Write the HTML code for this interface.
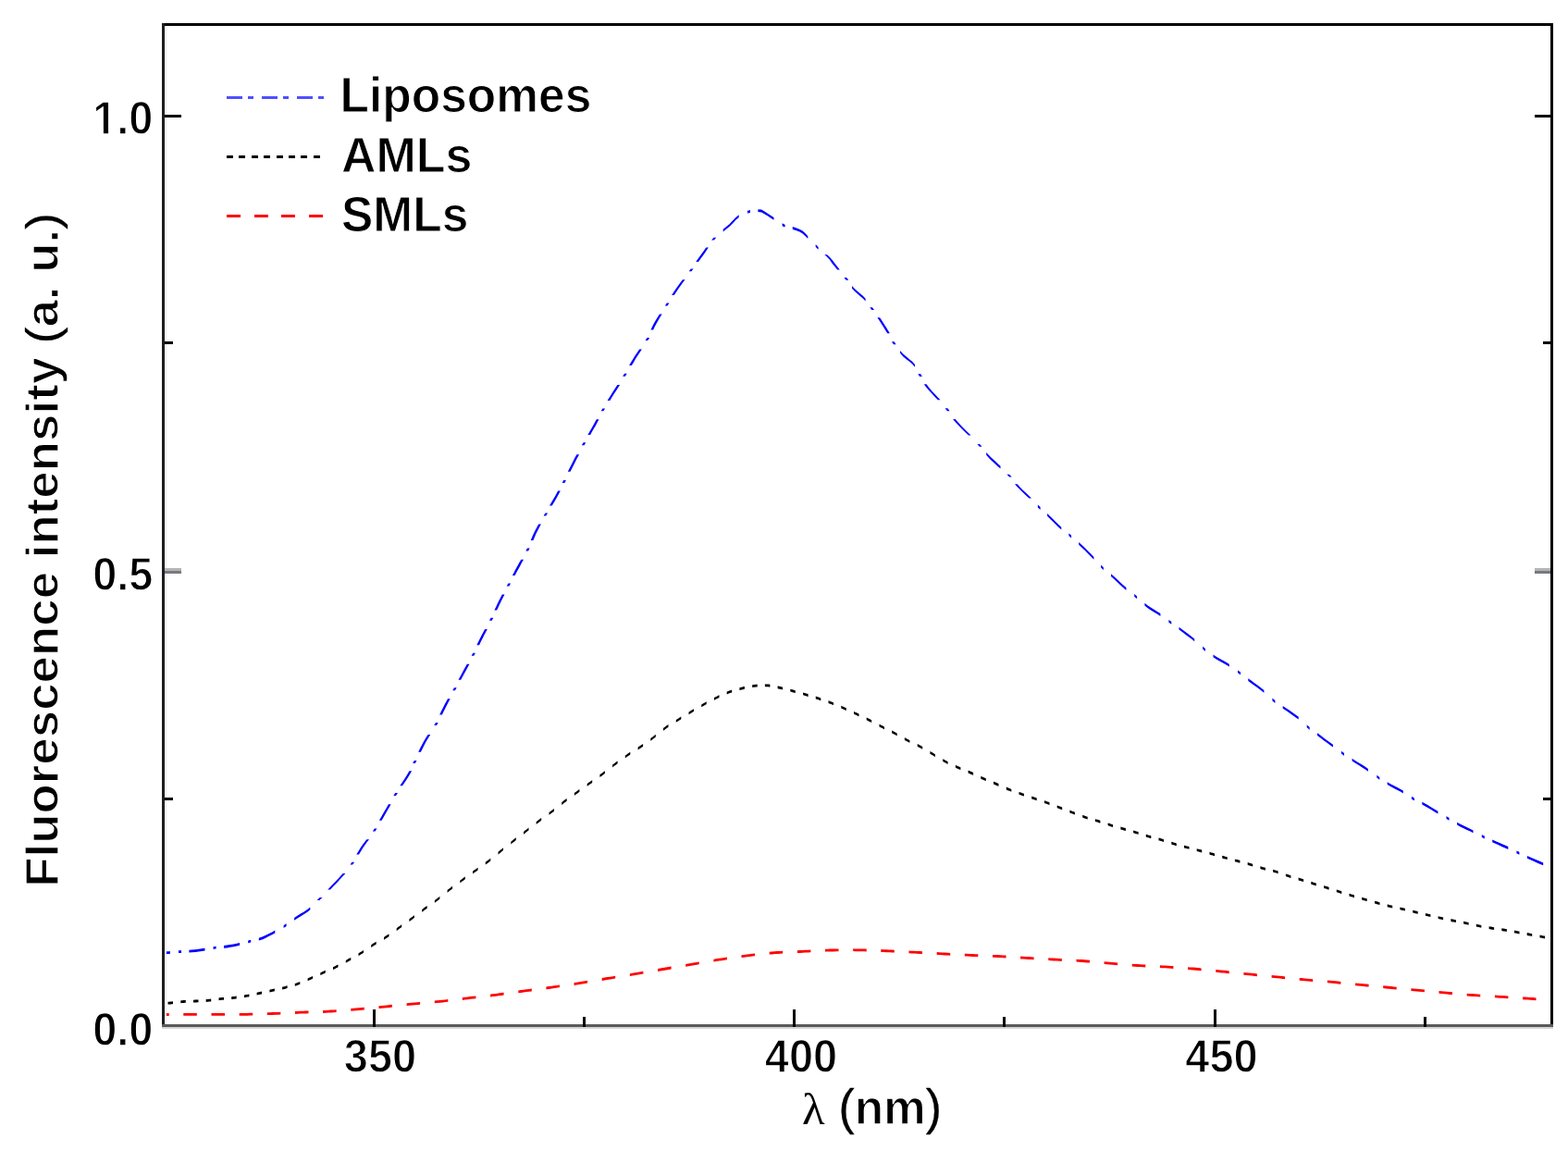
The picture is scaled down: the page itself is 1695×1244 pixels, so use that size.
<!DOCTYPE html>
<html><head><meta charset="utf-8"><title>Fluorescence spectra</title>
<style>html,body{margin:0;padding:0;background:#fff;}body{width:1695px;height:1244px;overflow:hidden;}svg{display:block;}text{font-family:'Liberation Sans', Arial, Helvetica, sans-serif;font-weight:bold;fill:#000;}</style></head><body>
<svg width="1695" height="1244" viewBox="0 0 1695 1244">
<defs><clipPath id="pa"><rect x="178" y="28" width="1498" height="1079"/></clipPath></defs>
<g clip-path="url(#pa)" stroke="none">
<path fill="#ff0000" d="M177.0,1095.1 L177.8,1095.1 L178.8,1095.1 L180.1,1095.1 L181.3,1095.1 L182.7,1095.1 L182.7,1097.9 L181.5,1097.9 L180.3,1097.9 L179.0,1097.9 L178.0,1097.9 L177.0,1097.9ZM198.3,1095.0 L201.5,1095.0 L204.5,1095.0 L207.2,1095.0 L210.0,1095.0 L212.8,1095.0 L212.8,1097.8 L210.2,1097.8 L207.5,1097.8 L204.7,1097.8 L201.8,1097.8 L198.3,1097.8ZM228.5,1095.0 L231.2,1095.0 L234.2,1095.0 L237.2,1095.0 L240.2,1095.0 L243.0,1095.0 L243.0,1097.8 L240.4,1097.8 L237.4,1097.8 L234.4,1097.8 L231.4,1097.8 L228.5,1097.8ZM258.7,1095.0 L261.2,1094.9 L264.2,1094.9 L267.2,1094.9 L270.2,1094.8 L273.2,1094.7 L273.2,1097.5 L270.5,1097.6 L267.5,1097.7 L264.5,1097.7 L261.5,1097.7 L258.7,1097.8ZM288.8,1094.3 L291.5,1094.2 L294.5,1094.1 L297.5,1094.0 L300.6,1093.9 L303.3,1093.8 L303.3,1096.6 L300.8,1096.7 L297.8,1096.8 L294.8,1096.9 L291.8,1097.0 L288.8,1097.1ZM319.0,1093.1 L321.6,1093.0 L324.6,1092.8 L327.6,1092.7 L330.6,1092.6 L333.5,1092.5 L333.5,1095.3 L330.8,1095.4 L327.8,1095.5 L324.8,1095.6 L321.8,1095.7 L319.0,1095.9ZM349.1,1092.1 L351.9,1092.0 L355.0,1091.8 L357.7,1091.6 L360.7,1091.4 L363.6,1091.2 L363.6,1094.0 L360.9,1094.2 L358.0,1094.4 L355.2,1094.6 L352.2,1094.7 L349.1,1094.9ZM379.3,1090.0 L382.0,1089.8 L384.9,1089.5 L387.9,1089.3 L391.0,1089.0 L393.8,1088.7 L393.8,1091.5 L391.2,1091.8 L388.2,1092.0 L385.2,1092.3 L382.2,1092.6 L379.3,1092.8ZM409.5,1087.2 L412.1,1087.0 L415.1,1086.7 L418.1,1086.4 L421.1,1086.1 L424.0,1085.8 L424.0,1088.6 L421.3,1088.9 L418.3,1089.2 L415.3,1089.5 L412.4,1089.8 L409.5,1090.0ZM439.6,1084.3 L442.2,1084.1 L445.2,1083.8 L448.2,1083.5 L451.2,1083.2 L454.1,1083.0 L454.1,1085.8 L451.5,1086.0 L448.5,1086.3 L445.5,1086.5 L442.4,1086.8 L439.6,1087.1ZM469.8,1081.5 L472.4,1081.3 L475.4,1081.0 L478.3,1080.7 L481.4,1080.4 L484.3,1080.0 L484.3,1082.8 L481.6,1083.1 L478.6,1083.5 L475.6,1083.8 L472.6,1084.1 L469.8,1084.3ZM499.9,1078.1 L502.6,1077.8 L505.6,1077.4 L508.6,1077.0 L511.5,1076.7 L514.4,1076.4 L514.4,1079.2 L511.8,1079.5 L508.8,1079.8 L505.9,1080.2 L502.9,1080.5 L499.9,1080.9ZM530.1,1074.6 L532.7,1074.3 L535.7,1073.9 L538.7,1073.5 L541.7,1073.1 L544.6,1072.8 L544.6,1075.6 L541.9,1075.9 L538.9,1076.3 L536.0,1076.7 L533.0,1077.1 L530.1,1077.4ZM560.3,1070.5 L563.1,1070.1 L566.0,1069.7 L569.0,1069.3 L572.0,1068.9 L574.8,1068.6 L574.8,1071.4 L572.0,1071.7 L569.0,1072.1 L566.0,1072.5 L563.1,1072.9 L560.3,1073.3ZM590.4,1066.5 L593.1,1066.1 L596.2,1065.7 L599.1,1065.3 L602.1,1064.9 L604.9,1064.4 L604.9,1067.2 L602.3,1067.6 L599.4,1068.1 L596.4,1068.5 L593.4,1068.9 L590.4,1069.3ZM620.6,1062.1 L623.1,1061.7 L626.1,1061.2 L629.1,1060.8 L632.1,1060.3 L635.1,1059.8 L635.1,1062.6 L632.4,1063.0 L629.4,1063.5 L626.4,1064.0 L623.4,1064.5 L620.6,1064.9ZM650.7,1057.1 L653.6,1056.6 L656.5,1056.1 L659.5,1055.7 L662.5,1055.2 L665.2,1054.7 L665.2,1057.5 L662.5,1058.0 L659.5,1058.5 L656.5,1058.9 L653.6,1059.4 L650.7,1059.9ZM680.9,1052.2 L683.6,1051.8 L686.6,1051.3 L689.5,1050.8 L692.5,1050.3 L695.4,1049.8 L695.4,1052.6 L692.8,1053.0 L689.8,1053.6 L686.8,1054.0 L683.8,1054.5 L680.9,1055.0ZM711.1,1047.1 L713.7,1046.6 L716.6,1046.1 L719.6,1045.6 L722.6,1045.1 L725.6,1044.6 L725.6,1047.4 L722.9,1047.9 L719.9,1048.4 L716.9,1048.9 L713.9,1049.4 L711.1,1049.9ZM741.2,1041.9 L743.9,1041.5 L746.9,1041.0 L749.9,1040.5 L752.8,1040.0 L755.7,1039.4 L755.7,1042.2 L753.1,1042.7 L750.1,1043.2 L747.2,1043.7 L744.2,1044.2 L741.2,1044.7ZM771.4,1036.8 L774.1,1036.3 L777.1,1035.8 L780.1,1035.4 L783.0,1034.9 L785.9,1034.5 L785.9,1037.3 L783.2,1037.7 L780.3,1038.2 L777.4,1038.6 L774.3,1039.1 L771.4,1039.6ZM801.5,1032.3 L804.3,1031.9 L807.2,1031.5 L810.1,1031.2 L813.2,1030.8 L816.0,1030.5 L816.0,1033.3 L813.2,1033.6 L810.1,1034.0 L807.2,1034.3 L804.3,1034.7 L801.5,1035.1ZM831.7,1028.8 L834.3,1028.6 L837.4,1028.3 L840.3,1028.1 L843.3,1028.0 L846.2,1027.8 L846.2,1030.6 L843.5,1030.7 L840.6,1030.9 L837.6,1031.1 L834.6,1031.4 L831.7,1031.6ZM861.9,1027.2 L864.4,1027.1 L867.4,1027.0 L870.4,1026.8 L873.5,1026.7 L876.4,1026.5 L876.4,1029.3 L873.7,1029.5 L870.7,1029.6 L867.7,1029.8 L864.7,1029.9 L861.9,1030.0ZM892.0,1025.8 L894.6,1025.7 L897.6,1025.6 L900.6,1025.6 L903.6,1025.5 L906.5,1025.4 L906.5,1028.2 L903.9,1028.3 L900.9,1028.4 L897.9,1028.4 L894.9,1028.5 L892.0,1028.6ZM922.2,1025.3 L924.8,1025.4 L927.8,1025.4 L930.8,1025.4 L933.8,1025.5 L936.7,1025.6 L936.7,1028.4 L934.1,1028.3 L931.1,1028.2 L928.1,1028.2 L925.1,1028.2 L922.2,1028.1ZM952.3,1026.1 L954.9,1026.2 L958.0,1026.3 L961.0,1026.5 L964.0,1026.6 L966.8,1026.7 L966.8,1029.5 L964.3,1029.4 L961.2,1029.3 L958.2,1029.2 L955.2,1029.0 L952.3,1028.9ZM982.5,1027.5 L985.1,1027.7 L988.1,1027.8 L991.2,1028.0 L994.2,1028.1 L997.0,1028.3 L997.0,1031.1 L994.4,1031.0 L991.4,1030.8 L988.4,1030.6 L985.4,1030.5 L982.5,1030.3ZM1012.7,1029.1 L1015.3,1029.3 L1018.3,1029.4 L1021.4,1029.6 L1024.4,1029.7 L1027.2,1029.9 L1027.2,1032.7 L1024.6,1032.6 L1021.6,1032.4 L1018.6,1032.2 L1015.6,1032.1 L1012.7,1031.9ZM1042.8,1030.7 L1045.4,1030.8 L1048.4,1030.9 L1051.4,1031.1 L1054.4,1031.2 L1057.3,1031.3 L1057.3,1034.1 L1054.7,1034.0 L1051.7,1033.9 L1048.6,1033.7 L1045.6,1033.6 L1042.8,1033.5ZM1073.0,1031.9 L1075.6,1032.0 L1078.6,1032.1 L1081.6,1032.3 L1084.6,1032.4 L1087.5,1032.6 L1087.5,1035.4 L1084.9,1035.3 L1081.9,1035.1 L1078.8,1034.9 L1075.8,1034.8 L1073.0,1034.7ZM1103.1,1033.6 L1105.9,1033.7 L1108.9,1033.9 L1111.7,1034.1 L1114.7,1034.2 L1117.6,1034.4 L1117.6,1037.2 L1114.9,1037.1 L1111.9,1036.9 L1109.1,1036.7 L1106.1,1036.5 L1103.1,1036.4ZM1133.3,1035.3 L1135.9,1035.4 L1138.9,1035.6 L1141.9,1035.8 L1144.9,1035.9 L1147.8,1036.1 L1147.8,1038.9 L1145.1,1038.7 L1142.1,1038.6 L1139.1,1038.4 L1136.1,1038.3 L1133.3,1038.1ZM1163.5,1036.8 L1166.1,1036.9 L1169.1,1037.1 L1172.1,1037.3 L1175.0,1037.6 L1178.0,1037.8 L1178.0,1040.6 L1175.3,1040.4 L1172.3,1040.2 L1169.3,1039.9 L1166.3,1039.8 L1163.5,1039.6ZM1193.6,1039.2 L1196.3,1039.4 L1199.3,1039.7 L1202.3,1039.9 L1205.3,1040.2 L1208.1,1040.4 L1208.1,1043.2 L1205.6,1043.0 L1202.6,1042.8 L1199.6,1042.5 L1196.6,1042.3 L1193.6,1042.0ZM1223.8,1041.7 L1226.4,1041.9 L1229.4,1042.1 L1232.4,1042.2 L1235.5,1042.4 L1238.3,1042.6 L1238.3,1045.4 L1235.7,1045.2 L1232.6,1045.1 L1229.6,1044.9 L1226.7,1044.7 L1223.8,1044.5ZM1253.9,1043.2 L1256.5,1043.4 L1259.5,1043.5 L1262.5,1043.7 L1265.5,1043.9 L1268.4,1044.1 L1268.4,1046.9 L1265.8,1046.7 L1262.8,1046.5 L1259.8,1046.3 L1256.7,1046.2 L1253.9,1046.0ZM1284.1,1045.2 L1286.8,1045.4 L1289.9,1045.6 L1292.6,1045.8 L1295.6,1046.1 L1298.6,1046.4 L1298.6,1049.2 L1295.9,1048.9 L1292.9,1048.7 L1290.1,1048.4 L1287.1,1048.2 L1284.1,1048.0ZM1314.3,1048.0 L1316.9,1048.2 L1319.9,1048.5 L1322.9,1048.8 L1325.9,1049.1 L1328.8,1049.4 L1328.8,1052.2 L1326.2,1051.9 L1323.1,1051.6 L1320.1,1051.4 L1317.2,1051.1 L1314.3,1050.8ZM1344.4,1050.9 L1347.1,1051.2 L1350.1,1051.5 L1353.1,1051.8 L1356.1,1052.1 L1358.9,1052.4 L1358.9,1055.2 L1356.3,1054.9 L1353.3,1054.6 L1350.3,1054.3 L1347.3,1054.0 L1344.4,1053.7ZM1374.6,1053.9 L1377.3,1054.2 L1380.3,1054.5 L1383.3,1054.8 L1386.3,1055.1 L1389.1,1055.4 L1389.1,1058.2 L1386.6,1057.9 L1383.6,1057.6 L1380.5,1057.3 L1377.5,1057.0 L1374.6,1056.7ZM1404.7,1056.9 L1407.4,1057.1 L1410.4,1057.4 L1413.4,1057.7 L1416.4,1057.9 L1419.2,1058.2 L1419.2,1061.0 L1416.6,1060.7 L1413.6,1060.5 L1410.6,1060.2 L1407.6,1059.9 L1404.7,1059.7ZM1434.9,1059.5 L1437.5,1059.7 L1440.5,1060.0 L1443.5,1060.3 L1446.5,1060.6 L1449.4,1060.9 L1449.4,1063.7 L1446.7,1063.4 L1443.7,1063.1 L1440.7,1062.8 L1437.7,1062.6 L1434.9,1062.3ZM1465.1,1062.4 L1467.8,1062.7 L1470.8,1063.0 L1473.8,1063.3 L1476.8,1063.6 L1479.6,1063.8 L1479.6,1066.6 L1477.0,1066.4 L1474.0,1066.1 L1471.0,1065.8 L1468.0,1065.5 L1465.1,1065.2ZM1495.2,1065.3 L1497.8,1065.6 L1500.8,1065.8 L1503.8,1066.1 L1506.8,1066.4 L1509.7,1066.7 L1509.7,1069.5 L1507.0,1069.2 L1504.0,1068.9 L1501.0,1068.7 L1498.0,1068.4 L1495.2,1068.1ZM1525.4,1068.2 L1528.1,1068.4 L1531.1,1068.7 L1533.9,1069.0 L1536.9,1069.3 L1539.9,1069.5 L1539.9,1072.3 L1537.1,1072.1 L1534.1,1071.8 L1531.4,1071.5 L1528.4,1071.3 L1525.4,1071.0ZM1555.5,1071.0 L1558.2,1071.2 L1561.2,1071.5 L1564.2,1071.8 L1567.2,1072.0 L1570.0,1072.3 L1570.0,1075.1 L1567.4,1074.9 L1564.4,1074.6 L1561.4,1074.3 L1558.4,1074.1 L1555.5,1073.8ZM1585.7,1073.7 L1588.3,1073.9 L1591.3,1074.1 L1594.3,1074.3 L1597.3,1074.5 L1600.2,1074.7 L1600.2,1077.5 L1597.5,1077.3 L1594.5,1077.1 L1591.6,1076.9 L1588.6,1076.7 L1585.7,1076.5ZM1615.9,1075.5 L1618.5,1075.7 L1621.5,1075.9 L1624.3,1076.0 L1627.3,1076.2 L1630.4,1076.4 L1630.4,1079.2 L1627.6,1079.0 L1624.5,1078.8 L1621.8,1078.7 L1618.7,1078.5 L1615.9,1078.3ZM1646.0,1077.4 L1648.6,1077.6 L1651.1,1077.7 L1653.7,1077.9 L1656.9,1078.1 L1660.5,1078.4 L1660.5,1081.2 L1657.2,1081.0 L1654.0,1080.7 L1651.4,1080.6 L1648.8,1080.4 L1646.0,1080.2ZM1676.2,1079.5 L1676.3,1079.6 L1676.5,1079.6 L1676.6,1079.6 L1676.7,1079.6 L1677.0,1079.6 L1677.0,1082.4 L1676.9,1082.4 L1676.7,1082.4 L1676.6,1082.4 L1676.5,1082.4 L1676.2,1082.3Z"/>
<path fill="#000000" d="M181.5,1082.8 L182.9,1082.7 L184.2,1082.6 L185.2,1082.5 L186.1,1082.4 L187.0,1082.3 L187.0,1085.1 L186.3,1085.2 L185.4,1085.3 L184.4,1085.4 L183.2,1085.5 L181.5,1085.6ZM195.3,1081.4 L196.1,1081.3 L197.4,1081.2 L198.4,1081.1 L199.7,1081.0 L200.8,1081.0 L200.8,1083.8 L200.0,1083.8 L198.7,1083.9 L197.7,1084.0 L196.4,1084.1 L195.3,1084.2ZM209.0,1080.7 L209.8,1080.7 L211.1,1080.6 L212.1,1080.6 L213.3,1080.5 L214.5,1080.5 L214.5,1083.3 L213.6,1083.3 L212.3,1083.4 L211.3,1083.4 L210.0,1083.5 L209.0,1083.5ZM222.7,1080.1 L223.7,1080.0 L224.7,1079.9 L226.0,1079.8 L227.0,1079.7 L228.2,1079.6 L228.2,1082.4 L227.2,1082.5 L226.2,1082.6 L225.0,1082.7 L224.0,1082.8 L222.7,1082.9ZM236.5,1078.5 L237.4,1078.3 L238.6,1078.2 L239.6,1078.1 L240.9,1078.0 L242.0,1077.9 L242.0,1080.7 L241.1,1080.7 L239.9,1080.8 L238.9,1081.0 L237.6,1081.1 L236.5,1081.3ZM250.2,1077.2 L251.1,1077.1 L252.4,1077.0 L253.4,1076.9 L254.6,1076.8 L255.7,1076.6 L255.7,1079.4 L254.9,1079.5 L253.6,1079.7 L252.6,1079.8 L251.4,1079.9 L250.2,1080.0ZM263.9,1075.4 L264.8,1075.3 L266.1,1075.1 L267.0,1074.9 L268.3,1074.7 L269.4,1074.5 L269.4,1077.3 L268.5,1077.4 L267.3,1077.6 L266.3,1077.8 L265.1,1078.0 L263.9,1078.2ZM277.6,1072.8 L278.4,1072.6 L279.7,1072.3 L280.9,1072.0 L282.1,1071.8 L283.1,1071.6 L283.1,1074.4 L282.4,1074.5 L281.2,1074.8 L279.9,1075.1 L278.7,1075.3 L277.6,1075.6ZM291.4,1069.7 L292.2,1069.6 L293.5,1069.3 L294.5,1069.1 L295.7,1068.8 L296.9,1068.5 L296.9,1071.3 L295.9,1071.5 L294.7,1071.8 L293.7,1072.0 L292.5,1072.3 L291.4,1072.5ZM305.1,1066.7 L305.9,1066.5 L307.2,1066.2 L308.3,1065.9 L309.6,1065.6 L310.6,1065.3 L310.6,1068.1 L309.8,1068.3 L308.6,1068.7 L307.4,1069.0 L306.2,1069.2 L305.1,1069.5ZM318.8,1063.0 L319.8,1062.7 L321.1,1062.2 L322.2,1061.8 L323.3,1061.4 L324.3,1060.9 L324.3,1063.7 L323.3,1064.2 L322.2,1064.6 L321.1,1065.0 L319.8,1065.5 L318.8,1065.8ZM332.6,1057.4 L333.5,1056.9 L334.7,1056.4 L335.9,1055.9 L337.0,1055.4 L338.1,1054.9 L338.1,1057.7 L337.0,1058.2 L335.9,1058.7 L334.7,1059.2 L333.5,1059.7 L332.6,1060.2ZM346.3,1051.3 L347.2,1050.9 L348.4,1050.3 L349.6,1049.8 L350.7,1049.3 L351.8,1048.8 L351.8,1051.6 L350.9,1052.0 L349.8,1052.5 L348.6,1053.0 L347.5,1053.6 L346.3,1054.1ZM360.0,1045.2 L361.1,1044.7 L362.2,1044.2 L363.3,1043.6 L364.4,1043.1 L365.5,1042.5 L365.5,1045.3 L364.6,1045.8 L363.5,1046.3 L362.4,1046.9 L361.3,1047.4 L360.0,1048.0ZM373.8,1037.9 L374.7,1037.4 L375.8,1036.8 L377.0,1036.1 L378.0,1035.5 L379.3,1034.9 L379.3,1037.7 L378.3,1038.2 L377.2,1038.8 L376.1,1039.4 L374.9,1040.1 L373.8,1040.7ZM387.5,1030.3 L388.5,1029.7 L389.6,1029.1 L390.7,1028.4 L391.8,1027.8 L393.0,1027.0 L393.0,1029.8 L392.0,1030.4 L390.9,1031.1 L389.8,1031.8 L388.7,1032.4 L387.5,1033.1ZM401.2,1021.2 L402.3,1020.5 L403.3,1019.8 L404.4,1019.1 L405.5,1018.5 L406.7,1017.7 L406.7,1020.5 L405.7,1021.2 L404.6,1021.8 L403.6,1022.5 L402.5,1023.2 L401.2,1024.0ZM415.0,1012.9 L416.0,1012.3 L417.0,1011.6 L418.3,1010.8 L419.4,1010.1 L420.5,1009.4 L420.5,1012.2 L419.6,1012.8 L418.5,1013.5 L417.3,1014.3 L416.2,1015.0 L415.0,1015.7ZM428.7,1003.2 L429.7,1002.5 L430.9,1001.6 L431.9,1000.9 L433.1,1000.0 L434.2,999.2 L434.2,1002.0 L433.3,1002.7 L432.1,1003.5 L431.1,1004.3 L429.9,1005.2 L428.7,1006.0ZM442.4,993.3 L443.4,992.5 L444.7,991.6 L445.7,990.9 L446.8,990.0 L447.9,989.2 L447.9,992.0 L447.0,992.6 L445.9,993.5 L444.9,994.3 L443.6,995.2 L442.4,996.1ZM456.2,982.9 L457.1,982.2 L458.3,981.3 L459.2,980.6 L460.5,979.7 L461.7,978.9 L461.7,981.7 L460.7,982.4 L459.4,983.3 L458.5,984.0 L457.3,984.9 L456.2,985.7ZM469.9,973.0 L470.7,972.4 L472.0,971.5 L473.2,970.6 L474.3,969.7 L475.4,968.8 L475.4,971.6 L474.5,972.3 L473.3,973.2 L472.2,974.1 L470.9,975.1 L469.9,975.8ZM483.6,962.0 L484.4,961.3 L485.6,960.4 L486.8,959.4 L488.0,958.5 L489.1,957.7 L489.1,960.5 L488.2,961.2 L487.0,962.1 L485.8,963.0 L484.6,964.0 L483.6,964.8ZM497.3,951.5 L498.2,950.9 L499.4,950.0 L500.4,949.2 L501.6,948.3 L502.8,947.5 L502.8,950.3 L501.8,951.0 L500.6,951.9 L499.6,952.6 L498.4,953.5 L497.3,954.3ZM511.1,941.6 L512.0,941.0 L513.2,940.1 L514.2,939.4 L515.4,938.5 L516.6,937.7 L516.6,940.5 L515.6,941.2 L514.4,942.0 L513.4,942.8 L512.2,943.6 L511.1,944.4ZM524.8,931.8 L525.7,931.1 L526.9,930.2 L528.1,929.3 L529.3,928.4 L530.3,927.6 L530.3,930.4 L529.5,931.0 L528.3,931.9 L527.1,932.9 L525.9,933.8 L524.8,934.6ZM538.5,920.8 L539.4,920.0 L540.6,919.1 L541.8,918.1 L542.9,917.2 L544.0,916.3 L544.0,919.1 L543.1,919.8 L542.0,920.7 L540.8,921.7 L539.6,922.7 L538.5,923.6ZM552.3,909.7 L553.2,908.9 L554.4,908.0 L555.6,907.0 L556.8,906.1 L557.8,905.3 L557.8,908.1 L557.0,908.8 L555.8,909.7 L554.6,910.6 L553.4,911.6 L552.3,912.5ZM566.0,898.9 L566.8,898.2 L568.0,897.3 L569.2,896.4 L570.4,895.4 L571.5,894.6 L571.5,897.4 L570.6,898.1 L569.4,899.0 L568.2,899.9 L567.0,900.9 L566.0,901.7ZM579.7,888.1 L580.6,887.4 L581.8,886.5 L582.8,885.8 L584.0,884.8 L585.2,883.9 L585.2,886.7 L584.2,887.5 L583.0,888.4 L582.0,889.2 L580.8,890.1 L579.7,890.9ZM593.5,878.0 L594.3,877.4 L595.5,876.5 L596.7,875.7 L597.9,874.7 L599.0,873.9 L599.0,876.7 L598.1,877.4 L596.9,878.3 L595.7,879.2 L594.5,880.1 L593.5,880.8ZM607.2,867.2 L608.0,866.5 L609.2,865.6 L610.4,864.6 L611.6,863.7 L612.7,862.9 L612.7,865.7 L611.8,866.4 L610.6,867.3 L609.4,868.2 L608.2,869.2 L607.2,870.0ZM620.9,857.0 L621.9,856.3 L623.1,855.4 L624.1,854.7 L625.3,853.8 L626.4,853.0 L626.4,855.8 L625.5,856.5 L624.3,857.4 L623.3,858.1 L622.1,859.0 L620.9,859.8ZM634.7,847.1 L635.5,846.5 L636.7,845.6 L637.7,844.9 L638.9,844.0 L640.2,843.2 L640.2,846.0 L639.1,846.7 L637.9,847.6 L636.9,848.3 L635.7,849.1 L634.7,849.9ZM648.4,837.3 L649.3,836.6 L650.6,835.7 L651.6,835.0 L652.7,834.1 L653.9,833.2 L653.9,836.0 L652.9,836.7 L651.8,837.6 L650.8,838.4 L649.5,839.3 L648.4,840.1ZM662.1,826.6 L663.0,825.9 L664.2,825.0 L665.2,824.2 L666.4,823.3 L667.6,822.4 L667.6,825.2 L666.6,826.0 L665.4,826.9 L664.4,827.6 L663.2,828.5 L662.1,829.4ZM675.8,816.5 L676.8,815.9 L677.8,815.2 L679.0,814.3 L680.1,813.6 L681.3,812.8 L681.3,815.6 L680.3,816.3 L679.2,817.0 L678.0,817.8 L677.0,818.5 L675.8,819.3ZM689.6,807.6 L690.4,807.1 L691.7,806.3 L692.7,805.6 L694.0,804.7 L695.1,804.0 L695.1,806.8 L694.2,807.4 L692.9,808.3 L691.9,808.9 L690.6,809.8 L689.6,810.4ZM703.3,798.0 L704.2,797.3 L705.5,796.4 L706.6,795.5 L707.8,794.5 L708.8,793.7 L708.8,796.5 L708.0,797.2 L706.8,798.1 L705.7,799.0 L704.4,800.0 L703.3,800.8ZM717.0,786.9 L717.9,786.3 L719.1,785.4 L720.1,784.6 L721.4,783.8 L722.5,783.0 L722.5,785.8 L721.6,786.4 L720.4,787.3 L719.3,788.0 L718.1,788.9 L717.0,789.7ZM730.8,777.9 L731.7,777.4 L732.8,776.7 L734.0,775.9 L735.1,775.2 L736.3,774.5 L736.3,777.3 L735.3,777.9 L734.3,778.6 L733.0,779.4 L731.9,780.0 L730.8,780.7ZM744.5,769.4 L745.5,768.9 L746.5,768.2 L747.6,767.6 L748.7,766.9 L750.0,766.2 L750.0,769.0 L748.9,769.6 L747.8,770.2 L746.8,770.9 L745.7,771.5 L744.5,772.2ZM758.2,761.4 L759.2,760.9 L760.2,760.3 L761.3,759.7 L762.5,759.0 L763.7,758.3 L763.7,761.1 L762.7,761.7 L761.6,762.3 L760.5,763.0 L759.4,763.6 L758.2,764.2ZM772.0,754.0 L772.9,753.5 L774.1,752.9 L775.2,752.4 L776.3,751.8 L777.5,751.3 L777.5,754.1 L776.5,754.5 L775.4,755.1 L774.3,755.6 L773.1,756.2 L772.0,756.8ZM785.7,747.6 L786.7,747.2 L787.8,746.8 L789.0,746.3 L790.2,745.9 L791.2,745.6 L791.2,748.4 L790.2,748.7 L789.0,749.1 L787.8,749.6 L786.7,750.0 L785.7,750.4ZM799.4,743.2 L800.4,743.0 L801.6,742.7 L802.5,742.4 L803.8,742.1 L804.9,741.9 L804.9,744.7 L804.0,744.9 L802.8,745.2 L801.8,745.4 L800.6,745.7 L799.4,746.0ZM813.2,740.2 L814.1,740.1 L815.3,739.9 L816.3,739.8 L817.6,739.7 L818.7,739.6 L818.7,742.4 L817.8,742.4 L816.6,742.6 L815.6,742.7 L814.4,742.8 L813.2,743.0ZM826.9,739.3 L827.7,739.4 L828.9,739.4 L829.9,739.5 L831.2,739.6 L832.4,739.8 L832.4,742.6 L831.4,742.5 L830.2,742.3 L829.2,742.3 L827.9,742.2 L826.9,742.1ZM840.6,741.4 L841.4,741.6 L842.6,741.8 L843.9,742.1 L845.1,742.4 L846.1,742.6 L846.1,745.4 L845.4,745.2 L844.1,745.0 L842.9,744.7 L841.6,744.4 L840.6,744.2ZM854.3,744.7 L855.2,745.0 L856.5,745.3 L857.4,745.6 L858.7,745.9 L859.8,746.2 L859.8,749.0 L858.9,748.8 L857.7,748.4 L856.7,748.2 L855.5,747.8 L854.3,747.5ZM868.1,748.5 L868.8,748.7 L870.1,749.1 L871.3,749.4 L872.5,749.8 L873.6,750.1 L873.6,752.9 L872.7,752.7 L871.5,752.3 L870.3,752.0 L869.1,751.6 L868.1,751.3ZM881.8,752.6 L882.6,752.8 L883.8,753.2 L885.0,753.6 L886.2,754.0 L887.3,754.4 L887.3,757.2 L886.5,756.9 L885.2,756.5 L884.1,756.1 L882.9,755.7 L881.8,755.4ZM895.5,757.2 L896.5,757.6 L897.7,758.0 L898.9,758.5 L900.1,758.9 L901.0,759.3 L901.0,762.1 L900.1,761.7 L898.9,761.3 L897.7,760.8 L896.5,760.4 L895.5,760.0ZM909.3,762.7 L910.3,763.2 L911.5,763.7 L912.6,764.2 L913.7,764.7 L914.8,765.2 L914.8,768.0 L913.7,767.5 L912.6,767.0 L911.5,766.5 L910.3,766.0 L909.3,765.5ZM923.0,768.9 L924.1,769.4 L925.2,770.0 L926.4,770.5 L927.5,771.1 L928.5,771.5 L928.5,774.3 L927.5,773.9 L926.4,773.3 L925.2,772.8 L924.1,772.2 L923.0,771.7ZM936.7,775.5 L937.8,776.0 L938.9,776.6 L940.0,777.1 L941.2,777.7 L942.2,778.2 L942.2,781.0 L941.2,780.5 L940.0,779.9 L938.9,779.4 L937.8,778.8 L936.7,778.3ZM950.5,782.6 L951.5,783.2 L952.6,783.8 L953.8,784.3 L954.9,784.9 L956.0,785.5 L956.0,788.3 L954.9,787.7 L953.8,787.1 L952.6,786.6 L951.5,786.0 L950.5,785.4ZM964.2,789.6 L965.3,790.1 L966.4,790.7 L967.5,791.3 L968.6,791.9 L969.7,792.5 L969.7,795.3 L968.6,794.7 L967.5,794.1 L966.4,793.5 L965.3,792.9 L964.2,792.4ZM977.9,797.1 L979.0,797.7 L980.1,798.3 L981.2,798.9 L982.3,799.5 L983.4,800.0 L983.4,802.8 L982.3,802.3 L981.2,801.7 L980.1,801.1 L979.0,800.5 L977.9,799.9ZM991.7,804.0 L992.7,804.5 L993.8,805.1 L994.9,805.7 L996.0,806.3 L997.2,806.9 L997.2,809.7 L996.2,809.2 L995.1,808.6 L994.0,808.0 L992.9,807.4 L991.7,806.8ZM1005.4,811.9 L1006.4,812.5 L1007.5,813.1 L1008.6,813.8 L1009.7,814.5 L1010.9,815.2 L1010.9,818.0 L1009.9,817.4 L1008.8,816.7 L1007.7,816.1 L1006.6,815.4 L1005.4,814.7ZM1019.1,820.2 L1020.1,820.7 L1021.2,821.3 L1022.3,821.9 L1023.4,822.5 L1024.6,823.1 L1024.6,825.9 L1023.7,825.4 L1022.6,824.8 L1021.4,824.3 L1020.3,823.6 L1019.1,823.0ZM1032.9,826.9 L1033.8,827.3 L1034.9,827.8 L1036.0,828.3 L1037.1,828.8 L1038.4,829.3 L1038.4,832.1 L1037.4,831.7 L1036.2,831.2 L1035.1,830.7 L1034.0,830.2 L1032.9,829.7ZM1046.6,832.7 L1047.6,833.1 L1048.8,833.6 L1050.0,834.1 L1051.1,834.6 L1052.1,835.0 L1052.1,837.8 L1051.1,837.4 L1050.0,836.9 L1048.8,836.4 L1047.6,835.9 L1046.6,835.5ZM1060.3,838.9 L1061.2,839.3 L1062.4,839.8 L1063.5,840.3 L1064.7,840.8 L1065.8,841.3 L1065.8,844.1 L1064.9,843.7 L1063.7,843.2 L1062.6,842.7 L1061.4,842.2 L1060.3,841.7ZM1074.0,844.7 L1075.1,845.1 L1076.2,845.6 L1077.4,846.1 L1078.5,846.6 L1079.5,847.0 L1079.5,849.8 L1078.5,849.4 L1077.4,848.9 L1076.2,848.4 L1075.1,847.9 L1074.0,847.5ZM1087.8,850.6 L1088.8,851.1 L1090.0,851.6 L1091.1,852.0 L1092.3,852.5 L1093.3,852.9 L1093.3,855.7 L1092.3,855.3 L1091.1,854.8 L1090.0,854.4 L1088.8,853.9 L1087.8,853.4ZM1101.5,855.9 L1102.4,856.2 L1103.6,856.6 L1104.8,857.0 L1105.9,857.4 L1107.0,857.8 L1107.0,860.6 L1106.2,860.3 L1105.0,859.9 L1103.8,859.5 L1102.6,859.1 L1101.5,858.7ZM1115.2,860.6 L1116.2,860.9 L1117.3,861.3 L1118.5,861.7 L1119.7,862.1 L1120.7,862.4 L1120.7,865.2 L1120.0,865.0 L1118.8,864.6 L1117.6,864.2 L1116.4,863.8 L1115.2,863.4ZM1129.0,865.2 L1129.9,865.5 L1131.1,865.9 L1132.3,866.4 L1133.5,866.8 L1134.5,867.2 L1134.5,870.0 L1133.7,869.7 L1132.5,869.2 L1131.4,868.8 L1130.1,868.4 L1129.0,868.0ZM1142.7,870.4 L1143.5,870.7 L1144.6,871.2 L1145.8,871.6 L1147.0,872.1 L1148.2,872.5 L1148.2,875.3 L1147.3,875.0 L1146.0,874.5 L1144.9,874.0 L1143.7,873.6 L1142.7,873.2ZM1156.4,875.6 L1157.3,876.0 L1158.5,876.4 L1159.7,876.9 L1160.9,877.3 L1161.9,877.7 L1161.9,880.5 L1161.1,880.2 L1159.9,879.7 L1158.8,879.3 L1157.5,878.9 L1156.4,878.4ZM1170.2,880.8 L1171.1,881.2 L1172.3,881.6 L1173.4,882.0 L1174.7,882.4 L1175.7,882.7 L1175.7,885.5 L1174.7,885.2 L1173.4,884.8 L1172.3,884.4 L1171.1,884.0 L1170.2,883.6ZM1183.9,885.1 L1184.8,885.4 L1186.0,885.7 L1187.2,886.1 L1188.4,886.5 L1189.4,886.8 L1189.4,889.6 L1188.6,889.4 L1187.4,889.0 L1186.3,888.6 L1185.0,888.2 L1183.9,887.9ZM1197.6,889.5 L1198.5,889.7 L1199.7,890.1 L1200.8,890.5 L1202.1,890.9 L1203.1,891.2 L1203.1,894.0 L1202.3,893.7 L1201.1,893.4 L1199.9,893.0 L1198.7,892.6 L1197.6,892.3ZM1211.4,893.6 L1212.2,893.8 L1213.4,894.2 L1214.6,894.5 L1215.8,894.8 L1216.9,895.1 L1216.9,897.9 L1216.0,897.7 L1214.8,897.4 L1213.7,897.0 L1212.4,896.7 L1211.4,896.4ZM1225.1,897.4 L1225.8,897.7 L1227.0,898.0 L1228.2,898.4 L1229.5,898.7 L1230.6,899.1 L1230.6,901.9 L1229.7,901.6 L1228.5,901.2 L1227.3,900.9 L1226.1,900.5 L1225.1,900.2ZM1238.8,901.7 L1239.8,902.0 L1241.0,902.4 L1241.9,902.7 L1243.1,903.0 L1244.3,903.3 L1244.3,906.1 L1243.4,905.9 L1242.2,905.5 L1241.2,905.3 L1240.0,904.9 L1238.8,904.5ZM1252.5,905.6 L1253.3,905.8 L1254.5,906.1 L1255.7,906.5 L1256.9,906.8 L1258.0,907.2 L1258.0,910.0 L1257.2,909.7 L1256.0,909.3 L1254.8,909.0 L1253.5,908.6 L1252.5,908.4ZM1266.3,909.8 L1267.2,910.1 L1268.4,910.4 L1269.4,910.7 L1270.6,911.1 L1271.8,911.4 L1271.8,914.2 L1270.8,914.0 L1269.6,913.6 L1268.6,913.3 L1267.4,913.0 L1266.3,912.6ZM1280.0,913.6 L1280.9,913.9 L1282.1,914.2 L1283.1,914.4 L1284.3,914.7 L1285.5,915.0 L1285.5,917.8 L1284.6,917.6 L1283.3,917.3 L1282.4,917.0 L1281.2,916.7 L1280.0,916.4ZM1293.7,917.2 L1294.5,917.4 L1295.7,917.7 L1296.9,918.0 L1298.1,918.3 L1299.2,918.6 L1299.2,921.4 L1298.3,921.2 L1297.1,920.9 L1295.9,920.5 L1294.7,920.2 L1293.7,920.0ZM1307.5,920.8 L1308.3,921.1 L1309.5,921.4 L1310.7,921.7 L1311.9,922.1 L1313.0,922.4 L1313.0,925.2 L1312.1,924.9 L1310.9,924.6 L1309.7,924.3 L1308.5,923.9 L1307.5,923.6ZM1321.2,924.8 L1322.0,925.0 L1323.2,925.3 L1324.4,925.7 L1325.6,926.0 L1326.7,926.3 L1326.7,929.1 L1325.9,928.8 L1324.7,928.5 L1323.5,928.2 L1322.2,927.9 L1321.2,927.6ZM1334.9,928.5 L1335.7,928.7 L1336.9,929.0 L1338.1,929.3 L1339.4,929.6 L1340.4,929.9 L1340.4,932.7 L1339.6,932.5 L1338.4,932.2 L1337.2,931.8 L1336.0,931.5 L1334.9,931.3ZM1348.7,932.1 L1349.4,932.3 L1350.6,932.7 L1351.9,933.0 L1353.0,933.4 L1354.2,933.7 L1354.2,936.5 L1353.3,936.3 L1352.1,935.9 L1350.9,935.6 L1349.7,935.2 L1348.7,934.9ZM1362.4,936.3 L1363.3,936.5 L1364.5,936.9 L1365.4,937.2 L1366.7,937.5 L1367.9,937.8 L1367.9,940.6 L1366.9,940.4 L1365.7,940.0 L1364.7,939.8 L1363.5,939.4 L1362.4,939.1ZM1376.1,939.8 L1377.0,940.1 L1378.2,940.4 L1379.4,940.8 L1380.6,941.1 L1381.6,941.5 L1381.6,944.3 L1380.9,944.0 L1379.7,943.6 L1378.5,943.3 L1377.2,942.9 L1376.1,942.6ZM1389.9,944.4 L1390.8,944.7 L1392.0,945.1 L1393.0,945.5 L1394.2,945.8 L1395.4,946.2 L1395.4,949.0 L1394.4,948.7 L1393.2,948.3 L1392.3,948.0 L1391.1,947.6 L1389.9,947.2ZM1403.6,948.6 L1404.3,948.8 L1405.6,949.2 L1406.8,949.5 L1408.0,949.9 L1409.1,950.3 L1409.1,953.1 L1408.2,952.8 L1407.0,952.4 L1405.8,952.1 L1404.6,951.7 L1403.6,951.4ZM1417.3,952.9 L1418.1,953.1 L1419.3,953.5 L1420.5,953.9 L1421.7,954.2 L1422.8,954.6 L1422.8,957.4 L1422.0,957.1 L1420.8,956.7 L1419.6,956.4 L1418.4,956.0 L1417.3,955.7ZM1431.1,957.1 L1431.9,957.4 L1433.1,957.7 L1434.3,958.1 L1435.5,958.5 L1436.6,958.8 L1436.6,961.6 L1435.8,961.4 L1434.5,961.0 L1433.3,960.6 L1432.1,960.2 L1431.1,959.9ZM1444.8,961.4 L1445.7,961.7 L1446.9,962.1 L1447.9,962.4 L1449.1,962.8 L1450.3,963.2 L1450.3,966.0 L1449.3,965.7 L1448.1,965.3 L1447.1,965.0 L1446.0,964.6 L1444.8,964.2ZM1458.5,965.7 L1459.4,966.0 L1460.7,966.4 L1461.6,966.7 L1462.8,967.0 L1464.0,967.4 L1464.0,970.2 L1463.1,969.9 L1461.9,969.5 L1460.9,969.3 L1459.7,968.9 L1458.5,968.5ZM1472.2,969.8 L1473.1,970.0 L1474.3,970.4 L1475.5,970.7 L1476.7,971.1 L1477.7,971.3 L1477.7,974.1 L1477.0,973.9 L1475.7,973.6 L1474.5,973.2 L1473.3,972.9 L1472.2,972.6ZM1486.0,973.7 L1487.0,974.0 L1488.2,974.3 L1489.2,974.6 L1490.4,974.9 L1491.5,975.2 L1491.5,978.0 L1490.6,977.8 L1489.4,977.5 L1488.4,977.2 L1487.2,976.8 L1486.0,976.5ZM1499.7,977.4 L1500.5,977.6 L1501.7,977.9 L1502.9,978.2 L1504.1,978.5 L1505.2,978.7 L1505.2,981.5 L1504.3,981.3 L1503.1,981.0 L1501.9,980.7 L1500.7,980.4 L1499.7,980.2ZM1513.4,980.5 L1514.2,980.7 L1515.4,980.9 L1516.6,981.2 L1517.8,981.5 L1518.9,981.7 L1518.9,984.5 L1518.1,984.3 L1516.9,984.0 L1515.6,983.8 L1514.4,983.5 L1513.4,983.3ZM1527.2,983.7 L1528.1,984.0 L1529.4,984.3 L1530.4,984.5 L1531.6,984.8 L1532.7,985.0 L1532.7,987.8 L1531.8,987.6 L1530.6,987.4 L1529.6,987.1 L1528.4,986.8 L1527.2,986.5ZM1540.9,987.0 L1541.8,987.2 L1543.0,987.5 L1543.9,987.7 L1545.2,988.0 L1546.4,988.3 L1546.4,991.1 L1545.4,990.8 L1544.2,990.5 L1543.2,990.3 L1542.0,990.0 L1540.9,989.8ZM1554.6,990.2 L1555.5,990.4 L1556.7,990.7 L1557.9,990.9 L1559.2,991.2 L1560.1,991.4 L1560.1,994.2 L1559.4,994.1 L1558.2,993.8 L1556.9,993.5 L1555.7,993.2 L1554.6,993.0ZM1568.4,993.1 L1569.3,993.3 L1570.5,993.6 L1571.5,993.8 L1572.7,994.0 L1573.9,994.2 L1573.9,997.0 L1572.9,996.8 L1571.7,996.6 L1570.7,996.4 L1569.5,996.2 L1568.4,995.9ZM1582.1,995.8 L1582.8,996.0 L1584.1,996.2 L1585.3,996.5 L1586.5,996.7 L1587.6,996.9 L1587.6,999.7 L1586.8,999.6 L1585.5,999.3 L1584.3,999.1 L1583.1,998.8 L1582.1,998.6ZM1595.8,998.8 L1596.8,999.0 L1598.0,999.2 L1599.0,999.5 L1600.3,999.7 L1601.3,999.9 L1601.3,1002.7 L1600.5,1002.5 L1599.3,1002.3 L1598.3,1002.1 L1597.0,1001.8 L1595.8,1001.6ZM1609.6,1001.3 L1610.6,1001.5 L1611.6,1001.6 L1612.8,1001.8 L1613.8,1002.0 L1615.1,1002.2 L1615.1,1005.0 L1614.1,1004.8 L1613.1,1004.7 L1611.8,1004.5 L1610.8,1004.3 L1609.6,1004.1ZM1623.3,1003.2 L1624.1,1003.4 L1625.4,1003.5 L1626.4,1003.7 L1627.6,1003.9 L1628.8,1004.1 L1628.8,1006.9 L1627.9,1006.7 L1626.6,1006.5 L1625.6,1006.4 L1624.4,1006.2 L1623.3,1006.0ZM1637.0,1005.6 L1637.9,1005.7 L1639.2,1006.0 L1640.2,1006.2 L1641.4,1006.4 L1642.5,1006.6 L1642.5,1009.4 L1641.6,1009.2 L1640.4,1009.0 L1639.4,1008.8 L1638.2,1008.6 L1637.0,1008.4ZM1650.7,1008.1 L1651.7,1008.3 L1653.0,1008.6 L1653.9,1008.7 L1655.2,1009.0 L1656.2,1009.2 L1656.2,1012.0 L1655.4,1011.8 L1654.2,1011.6 L1653.2,1011.4 L1652.0,1011.2 L1650.7,1010.9ZM1664.5,1010.6 L1665.2,1010.8 L1666.3,1011.0 L1667.3,1011.2 L1668.8,1011.4 L1670.0,1011.6 L1670.0,1014.4 L1669.1,1014.3 L1667.6,1014.0 L1666.6,1013.8 L1665.4,1013.6 L1664.5,1013.4Z"/>
<path fill="#0000ff" d="M177.0,1028.3 L177.8,1028.4 L179.6,1028.4 L181.4,1028.3 L182.6,1028.2 L183.8,1028.1 L183.8,1030.9 L182.6,1031.0 L181.4,1031.1 L179.6,1031.2 L177.8,1031.2 L177.0,1031.1ZM193.0,1027.3 L193.3,1027.3 L194.0,1027.2 L194.5,1027.2 L195.3,1027.2 L196.0,1027.1 L196.0,1029.9 L195.6,1029.9 L194.8,1030.0 L194.3,1030.0 L193.5,1030.1 L193.0,1030.1ZM204.4,1026.8 L207.5,1026.5 L211.0,1026.2 L214.7,1025.7 L218.2,1025.2 L221.5,1024.8 L221.5,1027.6 L218.5,1028.0 L214.9,1028.5 L211.3,1028.9 L207.8,1029.3 L204.4,1029.6ZM230.6,1023.1 L231.0,1023.0 L231.8,1022.9 L232.3,1022.9 L233.1,1022.8 L233.6,1022.7 L233.6,1025.5 L233.3,1025.6 L232.6,1025.6 L232.1,1025.7 L231.3,1025.8 L230.6,1025.9ZM242.0,1022.0 L245.2,1021.6 L248.7,1021.1 L252.2,1020.5 L255.7,1019.8 L259.1,1019.0 L259.1,1021.8 L255.9,1022.5 L252.5,1023.2 L249.0,1023.8 L245.5,1024.4 L242.0,1024.8ZM268.2,1016.5 L268.5,1016.4 L269.2,1016.2 L269.9,1016.0 L270.7,1015.9 L271.2,1015.7 L271.2,1018.5 L270.9,1018.6 L270.2,1018.8 L269.5,1019.0 L268.7,1019.2 L268.2,1019.3ZM279.8,1013.8 L283.4,1012.6 L286.8,1011.1 L290.4,1009.3 L294.0,1007.4 L297.3,1005.6 L297.3,1008.4 L294.0,1010.2 L290.4,1012.1 L286.8,1013.9 L283.4,1015.4 L279.8,1016.6ZM306.6,1000.2 L307.1,999.8 L307.7,999.5 L308.3,999.1 L309.0,998.6 L309.6,998.2 L309.6,1001.0 L309.0,1001.4 L308.3,1001.9 L307.7,1002.3 L307.1,1002.6 L306.6,1003.0ZM318.1,992.0 L321.3,989.7 L324.9,987.5 L328.5,985.4 L332.1,983.0 L335.3,980.5 L335.3,983.3 L332.3,985.7 L328.7,988.1 L325.2,990.2 L321.5,992.4 L318.1,994.8ZM342.8,972.9 L343.2,972.5 L343.9,971.8 L344.4,971.2 L345.1,970.5 L345.8,969.9 L348.5,969.9 L348.0,970.4 L347.3,971.1 L346.8,971.6 L346.0,972.3 L345.5,972.9ZM354.3,961.4 L357.6,958.0 L360.9,954.6 L364.3,951.0 L367.5,947.5 L370.7,943.9 L373.4,943.9 L370.4,947.3 L367.2,950.8 L363.8,954.4 L360.5,957.8 L357.0,961.4ZM378.5,934.6 L378.9,934.0 L379.4,933.3 L379.8,932.7 L380.2,932.1 L380.5,931.7 L383.2,931.7 L382.9,932.1 L382.5,932.7 L382.1,933.3 L381.6,934.0 L381.2,934.6ZM385.3,923.6 L387.2,920.4 L389.4,916.8 L391.6,913.5 L394.0,910.3 L396.4,907.2 L399.1,907.2 L396.8,910.1 L394.5,913.3 L392.2,916.6 L390.0,920.2 L388.0,923.6ZM402.9,898.4 L403.3,897.8 L403.7,897.2 L404.1,896.6 L404.5,895.9 L404.8,895.5 L407.5,895.5 L407.2,895.9 L406.8,896.6 L406.4,897.2 L406.0,897.8 L405.6,898.4ZM409.9,886.8 L411.8,883.5 L413.9,879.8 L415.9,876.3 L418.0,872.7 L419.9,869.3 L422.6,869.3 L420.8,872.4 L418.7,876.1 L416.7,879.6 L414.6,883.3 L412.6,886.8ZM425.4,859.9 L425.6,859.6 L426.1,858.9 L426.5,858.2 L426.8,857.6 L427.2,857.0 L429.9,857.0 L429.7,857.4 L429.3,858.0 L428.9,858.6 L428.5,859.3 L428.1,859.9ZM432.3,849.2 L434.5,846.0 L436.7,842.8 L438.6,839.7 L440.3,836.9 L442.4,833.3 L445.1,833.3 L443.0,836.9 L441.3,839.7 L439.4,842.8 L437.2,846.0 L435.0,849.2ZM446.3,824.9 L446.5,824.4 L446.9,823.5 L447.2,823.0 L447.5,822.4 L447.8,821.9 L450.5,821.9 L450.3,822.2 L450.0,822.8 L449.7,823.3 L449.4,824.1 L449.0,824.9ZM452.2,812.7 L454.0,809.0 L456.1,805.0 L458.1,801.3 L460.3,797.5 L462.6,794.0 L465.3,794.0 L463.2,797.3 L460.9,801.1 L458.9,804.8 L456.9,808.8 L454.9,812.7ZM469.2,784.1 L469.5,783.6 L469.9,783.0 L470.3,782.3 L470.6,781.6 L471.0,781.0 L473.7,781.0 L473.3,781.6 L473.0,782.3 L472.6,783.0 L472.2,783.6 L471.9,784.1ZM475.2,772.6 L476.8,769.1 L478.5,765.7 L480.2,762.2 L482.1,758.8 L484.0,755.3 L486.7,755.3 L484.9,758.6 L483.1,762.0 L481.3,765.4 L479.7,768.8 L477.9,772.6ZM489.3,746.2 L489.6,745.6 L490.0,744.9 L490.4,744.3 L490.7,743.7 L491.0,743.2 L493.7,743.2 L493.4,743.7 L493.1,744.3 L492.7,744.9 L492.3,745.6 L492.0,746.2ZM495.5,734.8 L497.3,731.5 L499.2,727.9 L500.9,724.7 L503.0,721.0 L504.8,717.8 L507.5,717.8 L505.8,720.8 L503.8,724.5 L502.0,727.7 L500.1,731.3 L498.2,734.8ZM509.7,708.7 L509.8,708.4 L510.2,707.7 L510.6,707.0 L510.9,706.3 L511.2,705.7 L513.9,705.7 L513.7,706.1 L513.4,706.8 L513.0,707.4 L512.7,708.1 L512.4,708.7ZM515.4,697.2 L517.0,693.8 L518.7,690.4 L520.5,686.8 L522.3,683.4 L524.1,680.0 L526.8,680.0 L525.1,683.2 L523.3,686.6 L521.5,690.2 L519.8,693.6 L518.1,697.2ZM529.0,670.8 L529.2,670.5 L529.5,669.8 L529.9,669.1 L530.2,668.4 L530.5,667.8 L533.2,667.8 L533.0,668.2 L532.7,668.9 L532.3,669.5 L532.0,670.2 L531.7,670.8ZM534.4,659.5 L536.0,656.2 L537.6,652.7 L539.2,649.4 L541.0,646.0 L542.8,642.5 L545.5,642.5 L543.8,645.7 L542.0,649.2 L540.4,652.5 L538.8,655.9 L537.1,659.5ZM547.8,633.5 L548.0,632.9 L548.4,632.2 L548.8,631.6 L549.1,631.0 L549.4,630.5 L552.1,630.5 L551.8,631.0 L551.5,631.6 L551.1,632.2 L550.7,632.9 L550.5,633.5ZM553.9,622.0 L555.6,618.7 L557.5,615.1 L559.5,611.6 L561.4,608.1 L563.3,604.7 L566.0,604.7 L564.2,607.8 L562.3,611.4 L560.4,614.9 L558.4,618.5 L556.6,622.0ZM568.4,595.5 L568.6,595.1 L568.9,594.5 L569.3,593.8 L569.6,593.1 L569.9,592.5 L572.6,592.5 L572.4,592.9 L572.1,593.6 L571.7,594.2 L571.4,594.9 L571.1,595.5ZM573.7,584.0 L575.1,580.7 L576.7,577.0 L578.4,573.6 L580.3,570.0 L582.2,566.6 L584.9,566.6 L583.1,569.8 L581.2,573.4 L579.5,576.8 L577.9,580.4 L576.4,584.0ZM587.7,557.4 L587.9,557.0 L588.3,556.3 L588.7,555.7 L589.1,555.0 L589.4,554.5 L592.1,554.5 L591.9,554.8 L591.5,555.5 L591.1,556.1 L590.7,556.8 L590.4,557.4ZM594.0,546.6 L595.8,543.6 L597.7,540.3 L599.5,537.2 L601.3,533.9 L603.1,530.6 L605.8,530.6 L604.1,533.7 L602.3,537.0 L600.6,540.1 L598.6,543.4 L596.7,546.6ZM607.6,522.0 L607.9,521.5 L608.3,520.9 L608.6,520.2 L608.9,519.5 L609.2,519.0 L611.9,519.0 L611.6,519.5 L611.3,520.2 L611.0,520.9 L610.6,521.5 L610.3,522.0ZM613.8,509.8 L615.6,506.2 L617.5,502.4 L619.5,498.5 L621.4,494.8 L623.4,491.2 L626.1,491.2 L624.1,494.8 L622.2,498.5 L620.2,502.4 L618.3,506.2 L616.5,509.8ZM628.8,481.2 L629.2,480.7 L629.5,480.0 L629.9,479.4 L630.3,478.7 L630.6,478.2 L633.3,478.2 L633.0,478.7 L632.6,479.4 L632.2,480.0 L631.9,480.7 L631.5,481.2ZM635.4,469.9 L637.2,466.8 L639.2,463.4 L641.1,460.1 L643.0,456.6 L644.8,453.2 L647.5,453.2 L645.8,456.3 L643.9,459.9 L642.0,463.1 L640.0,466.6 L638.1,469.9ZM649.7,444.3 L649.9,444.0 L650.3,443.3 L650.7,442.7 L651.0,442.0 L651.4,441.4 L654.1,441.4 L653.9,441.8 L653.5,442.5 L653.1,443.1 L652.7,443.8 L652.4,444.3ZM656.6,433.0 L658.6,429.8 L660.8,426.3 L663.0,422.7 L665.1,419.4 L667.4,415.9 L670.1,415.9 L668.0,419.2 L665.9,422.5 L663.6,426.1 L661.4,429.6 L659.3,433.0ZM673.1,406.8 L673.5,406.2 L673.9,405.5 L674.3,404.9 L674.7,404.2 L675.0,403.8 L677.7,403.8 L677.4,404.2 L677.0,404.9 L676.6,405.5 L676.2,406.2 L675.8,406.8ZM680.1,395.1 L682.1,391.6 L684.3,387.9 L686.4,384.6 L688.8,380.9 L691.2,377.4 L693.9,377.4 L691.7,380.7 L689.2,384.4 L687.1,387.7 L685.0,391.4 L682.8,395.1ZM697.6,368.0 L697.9,367.5 L698.3,366.9 L698.7,366.3 L699.1,365.6 L699.4,365.0 L702.1,365.0 L701.8,365.6 L701.4,366.3 L701.0,366.9 L700.6,367.5 L700.3,368.0ZM703.5,356.6 L705.0,353.2 L706.9,349.6 L708.9,346.1 L710.9,342.7 L713.0,339.5 L715.7,339.5 L713.7,342.5 L711.7,345.9 L709.7,349.4 L707.8,353.0 L706.2,356.6ZM718.9,330.4 L719.2,330.0 L719.6,329.3 L720.0,328.7 L720.4,328.1 L720.8,327.4 L723.5,327.4 L723.1,328.1 L722.7,328.7 L722.3,329.3 L721.9,330.0 L721.6,330.4ZM726.1,319.1 L728.2,315.8 L730.6,312.3 L732.9,309.0 L735.4,305.5 L737.9,302.2 L740.6,302.2 L738.2,305.3 L735.7,308.8 L733.4,312.1 L731.1,315.6 L728.8,319.1ZM744.8,293.2 L745.1,292.7 L745.6,292.1 L746.0,291.5 L746.5,290.9 L746.8,290.4 L749.5,290.4 L749.2,290.9 L748.7,291.5 L748.3,292.1 L747.8,292.7 L747.5,293.2ZM752.3,282.9 L754.3,280.1 L756.5,277.1 L758.7,274.1 L760.9,270.9 L763.2,267.6 L765.9,267.6 L763.8,270.6 L761.5,273.9 L759.3,276.9 L757.1,279.9 L755.0,282.9ZM769.2,259.5 L769.5,259.1 L769.9,258.6 L770.5,258.0 L771.1,257.3 L771.8,256.7 L774.5,256.7 L774.0,257.1 L773.4,257.7 L772.8,258.4 L772.4,258.9 L771.9,259.5ZM781.7,247.8 L785.1,244.9 L788.5,242.2 L791.8,238.8 L795.1,235.2 L798.7,232.3 L798.7,235.1 L795.3,237.8 L792.0,241.4 L788.7,244.8 L785.3,247.6 L781.7,250.6ZM808.0,227.8 L808.3,227.7 L809.0,227.5 L809.5,227.4 L810.3,227.2 L811.0,227.0 L811.0,229.8 L810.6,229.9 L809.8,230.1 L809.3,230.3 L808.6,230.5 L808.0,230.6ZM819.4,226.2 L823.1,226.6 L826.5,228.6 L829.5,230.4 L833.0,232.7 L836.5,235.0 L836.5,237.8 L833.3,235.7 L829.7,233.3 L826.7,231.5 L823.3,229.5 L819.4,229.0ZM845.6,241.3 L845.8,241.4 L846.5,241.8 L847.1,242.1 L847.8,242.4 L848.6,242.7 L848.6,245.5 L848.1,245.3 L847.3,245.0 L846.7,244.7 L846.0,244.4 L845.6,244.1ZM856.8,245.1 L860.4,246.3 L864.3,247.8 L867.6,249.6 L870.4,252.1 L873.3,255.2 L873.3,258.0 L870.4,254.9 L867.6,252.4 L864.3,250.6 L860.4,249.1 L856.8,247.9ZM881.7,264.2 L882.2,264.6 L882.8,265.2 L883.4,265.8 L883.9,266.3 L884.6,266.9 L884.6,269.7 L884.1,269.2 L883.5,268.7 L883.0,268.2 L882.4,267.6 L881.7,267.0ZM891.3,275.2 L894.1,277.8 L897.1,281.1 L899.4,284.4 L902.3,288.0 L905.1,291.4 L907.8,291.4 L905.2,288.2 L902.3,284.6 L899.9,281.3 L897.0,277.9 L894.0,275.2ZM912.5,300.1 L912.8,300.5 L913.2,301.0 L913.6,301.5 L914.2,302.2 L914.6,302.8 L917.3,302.8 L916.9,302.2 L916.4,301.5 L915.9,301.0 L915.5,300.5 L915.2,300.1ZM921.0,308.9 L923.6,311.8 L926.6,314.5 L929.8,317.2 L932.8,319.8 L935.6,322.7 L935.6,325.5 L932.8,322.6 L929.8,320.0 L926.6,317.3 L923.6,314.6 L921.0,311.7ZM940.3,332.2 L940.7,332.7 L941.1,333.3 L941.5,333.9 L942.0,334.5 L942.3,335.0 L945.0,335.0 L944.7,334.5 L944.2,333.9 L943.8,333.3 L943.4,332.7 L943.0,332.2ZM948.4,343.3 L950.6,346.6 L952.8,350.0 L955.1,353.5 L957.2,357.0 L959.2,360.3 L961.9,360.3 L959.9,357.0 L957.8,353.5 L955.5,350.0 L953.3,346.6 L951.1,343.3ZM964.0,369.3 L964.4,369.9 L964.8,370.6 L965.2,371.2 L965.6,371.8 L965.9,372.2 L968.6,372.2 L968.3,371.8 L967.9,371.2 L967.5,370.6 L967.1,369.9 L966.7,369.3ZM973.1,379.0 L976.0,382.2 L979.2,385.0 L982.7,387.9 L986.1,390.7 L989.0,393.9 L989.0,396.7 L986.3,393.6 L983.0,390.8 L979.4,388.0 L976.1,385.2 L973.1,381.8ZM992.5,404.1 L992.7,404.6 L993.1,405.3 L993.5,405.9 L993.8,406.5 L994.1,407.0 L996.8,407.0 L996.5,406.5 L996.2,405.9 L995.8,405.3 L995.4,404.6 L995.2,404.1ZM998.8,415.3 L1001.4,418.8 L1004.4,422.2 L1007.7,425.7 L1010.9,429.2 L1013.8,432.3 L1016.5,432.3 L1013.8,429.4 L1010.6,425.9 L1007.3,422.4 L1004.3,419.0 L1001.5,415.3ZM1021.7,441.3 L1022.1,441.8 L1022.5,442.4 L1023.0,443.0 L1023.4,443.6 L1024.0,444.3 L1026.7,444.3 L1026.3,443.8 L1025.9,443.2 L1025.4,442.6 L1024.9,442.0 L1024.4,441.3ZM1030.1,453.0 L1033.1,456.6 L1036.3,460.0 L1040.0,463.8 L1043.5,467.2 L1046.9,470.6 L1049.6,470.6 L1046.4,467.4 L1042.9,464.0 L1039.2,460.2 L1035.9,456.7 L1032.8,453.0ZM1056.2,479.9 L1056.7,480.3 L1057.2,480.9 L1057.7,481.4 L1058.2,482.0 L1058.8,482.8 L1061.5,482.8 L1061.0,482.2 L1060.5,481.6 L1060.0,481.0 L1059.5,480.5 L1058.9,479.9ZM1066.2,489.0 L1069.0,492.1 L1072.0,495.1 L1075.3,498.1 L1078.5,501.1 L1081.5,503.8 L1081.5,506.6 L1078.5,503.9 L1075.3,500.9 L1072.0,497.9 L1069.0,494.9 L1066.2,491.8ZM1088.4,512.7 L1088.9,513.2 L1089.4,513.7 L1089.9,514.3 L1090.4,514.8 L1091.0,515.5 L1093.7,515.5 L1093.3,515.0 L1092.8,514.5 L1092.3,513.9 L1091.8,513.4 L1091.1,512.7ZM1097.0,523.2 L1099.7,526.2 L1102.7,529.2 L1106.0,532.4 L1109.1,535.5 L1112.3,538.6 L1115.0,538.6 L1112.0,535.6 L1108.8,532.6 L1105.5,529.4 L1102.6,526.4 L1099.7,523.2ZM1121.9,545.6 L1122.5,546.1 L1123.0,546.6 L1123.5,547.1 L1124.1,547.6 L1124.6,548.2 L1124.6,551.0 L1124.1,550.4 L1123.5,549.9 L1123.0,549.4 L1122.5,548.9 L1121.9,548.4ZM1132.1,555.0 L1134.9,557.7 L1138.0,560.7 L1141.2,564.0 L1144.3,567.0 L1147.3,569.8 L1147.3,572.6 L1144.5,570.0 L1141.4,566.9 L1138.2,563.7 L1135.1,560.7 L1132.1,557.8ZM1155.4,576.4 L1155.8,576.8 L1156.5,577.3 L1157.0,577.8 L1157.6,578.2 L1158.1,578.7 L1158.1,581.5 L1157.7,581.2 L1157.2,580.7 L1156.7,580.3 L1156.0,579.7 L1155.4,579.2ZM1166.2,585.9 L1169.4,588.9 L1172.7,592.1 L1176.1,595.5 L1179.4,598.8 L1182.4,601.9 L1182.4,604.7 L1179.5,601.7 L1176.3,598.4 L1172.9,595.1 L1169.6,591.9 L1166.2,588.7ZM1190.1,610.6 L1190.5,611.0 L1191.1,611.6 L1191.8,612.3 L1192.3,612.8 L1192.9,613.3 L1192.9,616.1 L1192.5,615.8 L1192.0,615.3 L1191.3,614.6 L1190.7,614.0 L1190.1,613.4ZM1201.0,620.3 L1204.2,623.1 L1207.7,626.3 L1210.8,629.2 L1214.1,632.3 L1217.4,635.1 L1217.4,637.9 L1214.3,635.2 L1211.0,632.2 L1207.9,629.3 L1204.4,626.1 L1201.0,623.1ZM1226.2,641.9 L1226.8,642.4 L1227.4,642.9 L1228.0,643.4 L1228.5,643.9 L1229.1,644.4 L1229.1,647.2 L1228.7,646.8 L1228.1,646.4 L1227.6,645.9 L1227.0,645.4 L1226.2,644.7ZM1237.4,651.7 L1240.5,654.2 L1243.9,656.6 L1247.5,658.8 L1251.0,660.9 L1254.4,663.1 L1254.4,665.9 L1251.2,663.8 L1247.7,661.7 L1244.1,659.5 L1240.7,657.2 L1237.4,654.5ZM1263.4,669.9 L1263.9,670.2 L1264.5,670.7 L1265.1,671.1 L1265.7,671.6 L1266.3,672.0 L1266.3,674.8 L1265.9,674.5 L1265.3,674.1 L1264.7,673.6 L1264.1,673.2 L1263.4,672.7ZM1274.5,677.8 L1277.8,680.2 L1281.2,682.7 L1284.6,685.2 L1288.1,687.9 L1291.2,690.4 L1291.2,693.2 L1288.3,690.8 L1284.8,688.2 L1281.4,685.7 L1278.0,683.1 L1274.5,680.6ZM1300.1,698.6 L1300.5,699.0 L1301.1,699.5 L1301.7,700.0 L1302.3,700.4 L1303.0,701.0 L1303.0,703.8 L1302.5,703.4 L1301.9,702.9 L1301.3,702.4 L1300.7,701.9 L1300.1,701.4ZM1311.5,707.4 L1314.8,709.7 L1318.3,711.8 L1322.0,713.8 L1325.5,715.8 L1328.8,717.8 L1328.8,720.6 L1325.5,718.6 L1322.0,716.6 L1318.3,714.6 L1314.8,712.5 L1311.5,710.2ZM1338.0,724.4 L1338.5,724.7 L1339.1,725.2 L1339.7,725.6 L1340.3,726.1 L1341.0,726.6 L1341.0,729.4 L1340.5,729.0 L1339.9,728.6 L1339.3,728.1 L1338.7,727.7 L1338.0,727.2ZM1349.3,733.2 L1352.6,735.6 L1356.1,738.2 L1359.7,740.8 L1363.2,743.4 L1366.4,746.0 L1366.4,748.8 L1363.2,746.2 L1359.7,743.6 L1356.1,741.0 L1352.6,738.4 L1349.3,736.0ZM1375.4,754.6 L1375.9,755.1 L1376.5,755.6 L1377.1,756.1 L1377.7,756.5 L1378.4,757.1 L1378.4,759.9 L1377.9,759.5 L1377.3,759.0 L1376.7,758.5 L1376.1,758.1 L1375.4,757.4ZM1386.7,762.9 L1390.1,765.2 L1393.6,767.6 L1397.1,769.9 L1400.6,772.4 L1403.7,774.8 L1403.7,777.6 L1400.8,775.4 L1397.3,772.9 L1393.8,770.5 L1390.3,768.1 L1386.7,765.7ZM1412.7,783.4 L1413.2,783.8 L1413.8,784.4 L1414.6,785.0 L1415.1,785.5 L1415.7,785.9 L1415.7,788.7 L1415.3,788.4 L1414.7,788.0 L1414.0,787.3 L1413.4,786.8 L1412.7,786.2ZM1424.0,792.3 L1427.2,794.6 L1430.6,797.2 L1434.3,799.9 L1437.8,802.5 L1441.0,804.8 L1441.0,807.6 L1438.0,805.4 L1434.5,802.8 L1430.9,800.2 L1427.4,797.6 L1424.0,795.1ZM1450.0,811.8 L1450.6,812.3 L1451.3,812.7 L1451.9,813.2 L1452.5,813.6 L1453.0,814.0 L1453.0,816.8 L1452.5,816.4 L1451.9,816.0 L1451.3,815.5 L1450.6,815.1 L1450.0,814.6ZM1461.6,819.7 L1464.9,821.9 L1468.5,824.2 L1472.0,826.3 L1475.5,828.6 L1479.0,831.0 L1479.0,833.8 L1475.7,831.6 L1472.2,829.3 L1468.8,827.1 L1465.1,824.8 L1461.6,822.5ZM1488.3,837.8 L1488.8,838.2 L1489.4,838.6 L1490.0,839.0 L1490.6,839.5 L1491.3,839.9 L1491.3,842.7 L1490.9,842.4 L1490.2,842.0 L1489.6,841.6 L1489.0,841.1 L1488.3,840.6ZM1499.7,845.3 L1503.0,847.2 L1506.5,849.1 L1510.0,850.8 L1513.6,852.7 L1516.8,854.6 L1516.8,857.4 L1513.8,855.6 L1510.2,853.7 L1506.8,852.0 L1503.2,850.1 L1499.7,848.1ZM1525.9,860.8 L1526.3,861.0 L1527.0,861.4 L1527.6,861.8 L1528.3,862.2 L1528.9,862.5 L1528.9,865.3 L1528.5,865.1 L1527.8,864.7 L1527.2,864.4 L1526.5,864.0 L1525.9,863.6ZM1537.3,866.8 L1540.6,868.5 L1544.1,870.5 L1547.6,872.7 L1551.0,874.8 L1554.4,876.8 L1554.4,879.6 L1551.2,877.7 L1547.8,875.6 L1544.3,873.5 L1540.8,871.4 L1537.3,869.6ZM1563.5,882.1 L1564.1,882.5 L1564.8,882.9 L1565.4,883.2 L1566.0,883.6 L1566.5,883.9 L1566.5,886.7 L1566.0,886.4 L1565.4,886.0 L1564.8,885.7 L1564.1,885.3 L1563.5,884.9ZM1575.1,888.8 L1578.2,890.5 L1581.9,892.3 L1585.5,894.0 L1589.1,895.7 L1592.5,897.4 L1592.5,900.2 L1589.3,898.6 L1585.7,897.0 L1582.1,895.2 L1578.5,893.4 L1575.1,891.6ZM1601.8,902.2 L1602.2,902.3 L1602.8,902.7 L1603.5,903.0 L1604.2,903.3 L1604.8,903.6 L1604.8,906.4 L1604.4,906.2 L1603.8,905.9 L1603.1,905.6 L1602.4,905.3 L1601.8,905.0ZM1613.2,907.5 L1616.5,909.0 L1619.9,910.5 L1623.4,912.1 L1626.9,913.6 L1630.3,915.1 L1630.3,917.9 L1626.9,916.4 L1623.4,914.9 L1619.9,913.3 L1616.5,911.8 L1613.2,910.3ZM1639.4,919.5 L1639.8,919.7 L1640.4,920.0 L1641.1,920.3 L1641.8,920.6 L1642.4,920.9 L1642.4,923.7 L1642.0,923.5 L1641.4,923.2 L1640.7,922.9 L1640.0,922.6 L1639.4,922.3ZM1650.9,924.9 L1654.3,926.4 L1657.8,928.0 L1661.4,929.6 L1664.9,931.1 L1668.2,932.5 L1668.2,935.3 L1664.9,933.9 L1661.4,932.4 L1657.8,930.8 L1654.3,929.2 L1650.9,927.7Z"/>
</g>
<g shape-rendering="crispEdges">
<rect x="178" y="28" width="2" height="1079" fill="#f0f0f0"/>
<rect x="175" y="25" width="1504" height="3" fill="#000"/>
<rect x="175" y="25" width="3" height="1085" fill="#1e1e1e"/>
<rect x="1676" y="25" width="3" height="1085" fill="#000"/>
<rect x="175" y="1107" width="1504" height="3" fill="#5a5a5a"/>
<rect x="175" y="1110" width="1504" height="2" fill="#d6d6d6"/>
<rect x="178" y="124.4" width="18" height="2.8" fill="#000"/>
<rect x="1659" y="124.4" width="17" height="2.8" fill="#000"/>
<rect x="178" y="369.2" width="9" height="2.8" fill="#000"/>
<rect x="1668" y="369.2" width="8" height="2.8" fill="#000"/>
<rect x="178" y="862.0" width="9" height="2.8" fill="#000"/>
<rect x="1668" y="862.0" width="8" height="2.8" fill="#000"/>
<rect x="178" y="614.3" width="18" height="2.8" fill="#b4b4b4"/><rect x="178" y="617.1" width="18" height="2.7" fill="#767a80"/>
<rect x="1658.5" y="614.3" width="17.5" height="2.8" fill="#b4b4b4"/><rect x="1658.5" y="617.1" width="17.5" height="2.7" fill="#767a80"/>
<rect x="402.8" y="1091" width="3" height="19" fill="#000"/>
<rect x="630.0" y="1099" width="3" height="11" fill="#000"/>
<rect x="857.2" y="1091" width="3" height="19" fill="#000"/>
<rect x="1084.4" y="1099" width="3" height="11" fill="#000"/>
<rect x="1311.6" y="1091" width="3" height="19" fill="#000"/>
<rect x="1538.8" y="1099" width="3" height="11" fill="#000"/>
</g>
<g font-size="47">
<text transform="translate(165.5,144.6) scale(1,1.045)" text-anchor="end" stroke="#fff" stroke-width="1.2">1.0</text>
<text transform="translate(165.5,637.6) scale(1,1.045)" text-anchor="end" stroke="#fff" stroke-width="1.2">0.5</text>
<text transform="translate(165.5,1129.6) scale(1,1.045)" text-anchor="end" stroke="#fff" stroke-width="1.2">0.0</text>
<text transform="translate(411.0,1158.8) scale(1,1.045)" text-anchor="middle" stroke="#fff" stroke-width="1.2">350</text>
<text transform="translate(866.0,1158.8) scale(1,1.045)" text-anchor="middle" stroke="#fff" stroke-width="1.2">400</text>
<text transform="translate(1320.5,1158.8) scale(1,1.045)" text-anchor="middle" stroke="#fff" stroke-width="1.2">450</text>
</g>
<rect x="102.5" y="139.7" width="9.4" height="6.3" fill="#fff"/><rect x="117.1" y="139.7" width="9.2" height="6.3" fill="#fff"/>
<text font-size="50.6" transform="translate(62.5,594.5) scale(1,1.045) rotate(-90)" text-anchor="middle" stroke="#fff" stroke-width="1.3">Fluorescence intensity <tspan style="font-weight:normal" stroke="#000" stroke-width="0.3">(</tspan>a. u.<tspan style="font-weight:normal" stroke="#000" stroke-width="0.3">)</tspan></text>
<g transform="translate(0,1215) scale(1,1.045)">
<text x="802.8" y="0" font-size="47" style="font-family:'Liberation Serif','Times New Roman',serif;font-weight:normal" transform="scale(1.08,1)" >λ</text>
<text x="906.5" y="0" font-size="51.5" stroke="#fff" stroke-width="1.3"><tspan style="font-weight:normal" stroke="#000" stroke-width="0.3">(</tspan>nm<tspan style="font-weight:normal" stroke="#000" stroke-width="0.3">)</tspan></text>
</g>
<g fill="none" stroke-width="3" shape-rendering="crispEdges">
<line x1="245" y1="105" x2="350" y2="105" stroke="#5050ff" stroke-dasharray="17 6 6 9"/>
<line x1="245" y1="169.5" x2="348" y2="169.5" stroke="#000" stroke-dasharray="7 6.4"/>
<line x1="245" y1="233.7" x2="350" y2="233.7" stroke="#ff0000" stroke-dasharray="15 14.5"/>
</g>
<g font-size="51.5">
<text font-size="51.5" transform="translate(367.5,121.3) scale(1,1.045)" stroke="#fff" stroke-width="1.0">Liposomes</text>
<text font-size="52.0" transform="translate(369.0,185.9) scale(1,1.045)" stroke="#fff" stroke-width="1.0">AMLs</text>
<text font-size="51.5" transform="translate(369.0,249.5) scale(1,1.045)" stroke="#fff" stroke-width="1.0">SMLs</text>
</g>
</svg></body></html>
